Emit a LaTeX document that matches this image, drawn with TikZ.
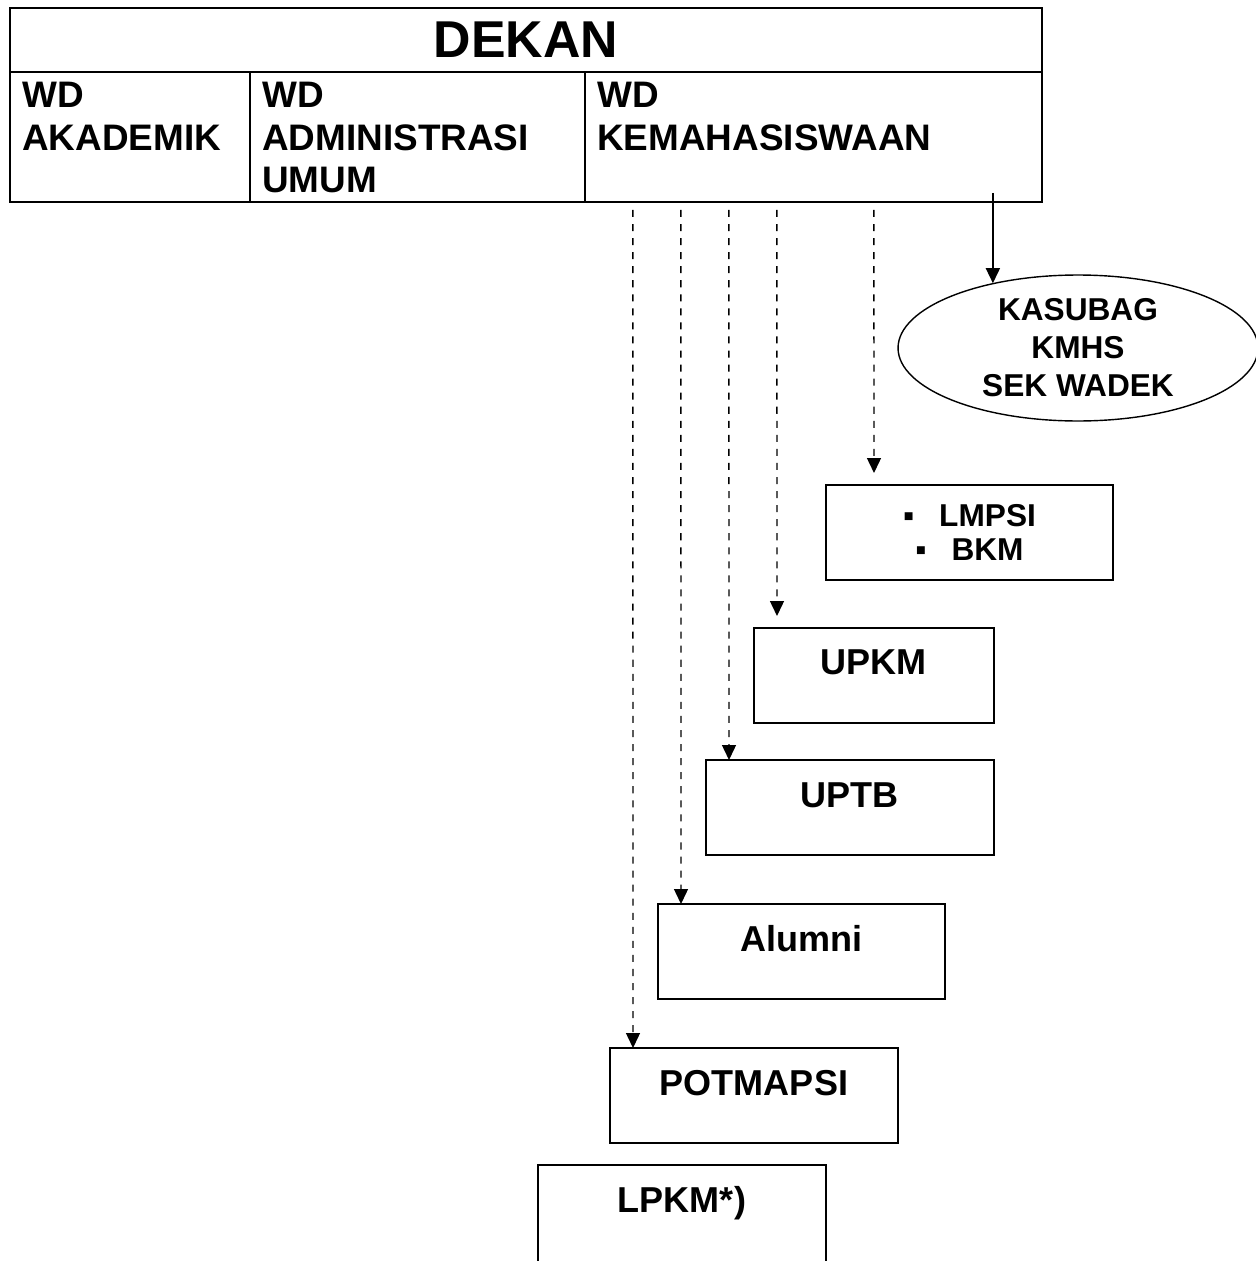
\documentclass[tikz,border=0pt]{standalone}
\usepackage{fontspec}
\setmainfont{Liberation Sans}
\usepackage{tikz}
\usetikzlibrary{shapes.geometric, arrows.meta, positioning, calc}

\begin{document}
\begin{tikzpicture}[
    x=0.02cm, y=-0.02cm,
    frame/.style={draw, line width=1.1pt, inner sep=0pt, outer sep=0pt, anchor=north west},
    column/.style={frame, line width=1.4pt, minimum height=2.6cm},
    wdlabel/.style={anchor=north west, align=left, inner sep=0pt, xshift=0.24cm, yshift=-0.2cm,
        font=\fontsize{21}{24.2}\selectfont\bfseries},
    unit/.style={frame, minimum width=5.76cm, text height=0.94cm, text depth=0.96cm,
        font=\fontsize{20.5}{24.2}\selectfont\bfseries},
    oval/.style={draw, ellipse, line width=0.8pt, inner sep=0pt, minimum width=7.2cm, minimum height=2.92cm,
        align=center, font=\fontsize{18}{21.6}\selectfont\bfseries},
    arr/.style={-{Triangle[length=0.3cm, width=0.28cm]}, line width=0.9pt},
    dasharr/.style={-{Triangle[length=0.3cm, width=0.28cm]}, line width=0.8pt, dash pattern=on 4pt off 4pt}
]
    \useasboundingbox (0,0) rectangle (1256,1261);
    \clip (0,0) rectangle (1256,1261);

    % Dekan and the three deputies
    \node[frame, line width=1.4pt, minimum width=20.64cm, minimum height=1.28cm, anchor=north west,
        font=\fontsize{29.5}{34}\selectfont\bfseries] (dekan) at (10,8) {DEKAN};
    \node[column, minimum width=4.8cm, label={[wdlabel]north west:WD\\AKADEMIK}] (wdak) at (dekan.south west) {};
    \node[column, minimum width=6.7cm, label={[wdlabel]north west:WD\\ADMINISTRASI\\UMUM}] (wdadm) at (wdak.north east) {};
    \node[column, minimum width=9.14cm, label={[wdlabel]north west:WD\\KEMAHASISWAAN}] (wdkm) at (wdadm.north east) {};

    % Secretary
    \node[oval] (kasubag) at (1078,348) {KASUBAG\\KMHS\\SEK WADEK};

    % Units under WD Kemahasiswaan
    \node[frame, minimum width=5.74cm, minimum height=1.9cm, align=center,
        font=\fontsize{18}{19.4}\selectfont\bfseries] (lmpsi) at (826,485) {▪\hspace{0.5cm}LMPSI\\▪\hspace{0.5cm}BKM};
    \node[unit, minimum width=4.8cm] (upkm) at (754,628) {UPKM};
    \node[unit] (uptb) at (706,760) {UPTB};
    \node[unit, minimum width=5.74cm] (alumni) at (658,904) {Alumni};
    \node[unit] (potmapsi) at (610,1048) {POTMAPSI};
    \node[unit, text depth=1.3cm] (lpkm) at (538,1165) {LPKM*)};

    % Lines of command
    \coordinate (kmstart) at ($(wdkm.south west)+(408,-9)$);
    \draw[arr] (kmstart) -- (kmstart |- kasubag.143);
    \draw[dasharr] ($(wdkm.south west)+(289,8)$) -- ($(lmpsi.north west)+(48,-12)$);
    \draw[dasharr] ($(wdkm.south west)+(192,8)$) -- ($(upkm.north west)+(23,-12)$);
    \draw[dasharr] ($(wdkm.south west)+(144,8)$) -- ($(uptb.north west)+(23,0)$);
    \draw[dasharr] ($(wdkm.south west)+(96,8)$) -- ($(alumni.north west)+(23,0)$);
    \draw[dasharr] ($(wdkm.south west)+(48,8)$) -- ($(potmapsi.north west)+(23,0)$);

\end{tikzpicture}
\end{document}
